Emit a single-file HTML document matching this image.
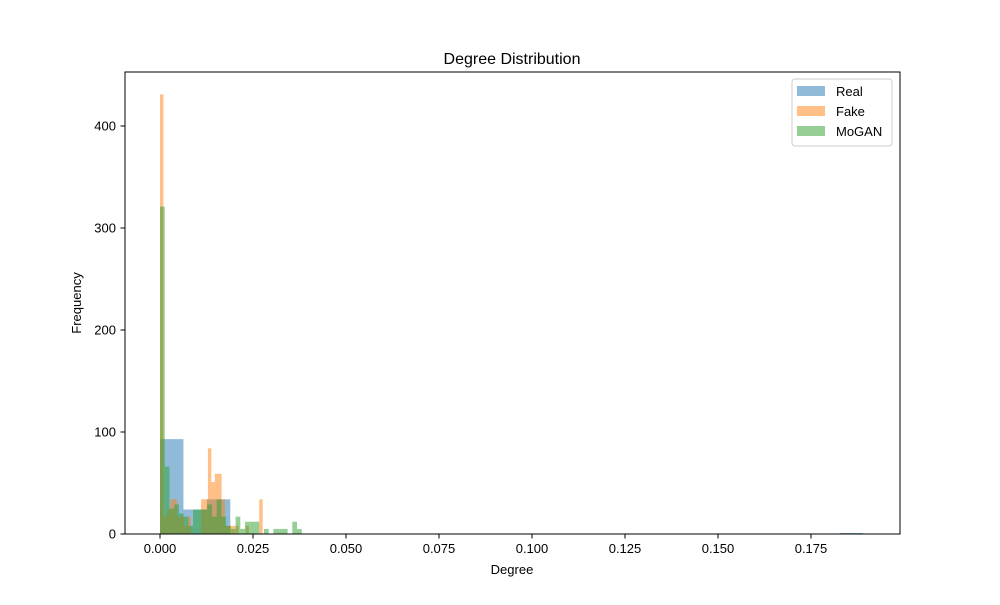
<!DOCTYPE html>
<html><head><meta charset="utf-8"><style>
body{margin:0;background:#fff;}
svg{font-family:"Liberation Sans","DejaVu Sans",sans-serif;}
</style></head><body>
<svg id="chart" width="1000" height="600" viewBox="0 0 1000 600">
<rect x="0" y="0" width="1000" height="600" fill="#fff"/>
<g id="bars"></g>
<rect x="125" y="72" width="775" height="462" fill="none" stroke="#000" stroke-width="1"/>
<g id="axes"></g>
<text x="512" y="64" text-anchor="middle" font-size="16">Degree Distribution</text>
<text x="512" y="574" text-anchor="middle" font-size="13">Degree</text>
<text x="81" y="303" text-anchor="middle" font-size="13" transform="rotate(-90 81 303)">Frequency</text>
<g>
<rect x="792" y="79" width="100" height="67" rx="3" fill="#fff" fill-opacity="0.8" stroke="#ccc"/>
<g><rect x="797" y="86" width="28" height="10" fill="#1f77b4" fill-opacity="0.5"/><text x="836" y="96" font-size="13">Real</text></g>
<g><rect x="797" y="106" width="28" height="10" fill="#ff7f0e" fill-opacity="0.5"/><text x="836" y="116" font-size="13">Fake</text></g>
<g><rect x="797" y="126" width="28" height="10" fill="#2ca02c" fill-opacity="0.5"/><text x="836" y="136" font-size="13">MoGAN</text></g>
</g>
</svg>
<script>
const realBinWidth = 0.0063;
const realCounts = [93,24,34,0,0,0,0,0,0,0,0,0,0,0,0,0,0,0,0,0,0,0,0,0,0,0,0,0,0,1];
const fakeBinWidth = 0.00092;
const fakeCounts = [431,17,24,34,34,17,17,8,17,0,0,0,34,34,84,51,59,59,34,8,8,8,8,0,0,8,0,0,0,34];
const moganBinWidth = 0.00127;
const moganCounts = [321,66,25,29,20,17,8,24,24,24,29,17,34,17,8,5,17,5,12,12,12,0,5,0,5,5,5,0,12,5];
const xTicks = [0,0.025,0.05,0.075,0.1,0.125,0.15,0.175];
const xTickLabels = ["0.000","0.025","0.050","0.075","0.100","0.125","0.150","0.175"];
const yTicks = [0,100,200,300,400];

const NS="http://www.w3.org/2000/svg";
const X0=160, XS=(811-160)/0.175, Y0=534, YS=(534-126)/400;
const xs=v=>X0+v*XS, ys=v=>Y0-v*YS;
const bars=document.getElementById('bars'), axes=document.getElementById('axes');
function series(counts,bw,color,name){
  counts.forEach((c,i)=>{
    if(c<=0) return;
    const r=document.createElementNS(NS,'rect');
    const x1=xs(i*bw), x2=xs((i+1)*bw);
    r.setAttribute('x',x1);r.setAttribute('width',x2-x1);
    r.setAttribute('y',ys(c));r.setAttribute('height',ys(0)-ys(c));
    r.setAttribute('fill',color);r.setAttribute('fill-opacity','0.5');
    
    
    bars.appendChild(r);
  });
}
series(realCounts,realBinWidth,'#1f77b4','real');
series(fakeCounts,fakeBinWidth,'#ff7f0e','fake');
series(moganCounts,moganBinWidth,'#2ca02c','mogan');
xTicks.forEach((t,i)=>{
  const x=xs(t);
  const l=document.createElementNS(NS,'line');
  l.setAttribute('x1',x);l.setAttribute('x2',x);l.setAttribute('y1',534);l.setAttribute('y2',538.5);l.setAttribute('stroke','#000');
  
  
  axes.appendChild(l);
  const tx=document.createElementNS(NS,'text');
  tx.setAttribute('x',x);tx.setAttribute('y',553);tx.setAttribute('text-anchor','middle');tx.setAttribute('font-size','13');
  tx.textContent=xTickLabels[i];
  
  
  axes.appendChild(tx);
});
yTicks.forEach(t=>{
  const y=ys(t);
  const l=document.createElementNS(NS,'line');
  l.setAttribute('x1',120.5);l.setAttribute('x2',125);l.setAttribute('y1',y);l.setAttribute('y2',y);l.setAttribute('stroke','#000');
  
  
  axes.appendChild(l);
  const tx=document.createElementNS(NS,'text');
  tx.setAttribute('x',116);tx.setAttribute('y',y+4.5);tx.setAttribute('text-anchor','end');tx.setAttribute('font-size','13');
  tx.textContent=String(t);
  
  
  axes.appendChild(tx);
});
</script>
</body></html>
